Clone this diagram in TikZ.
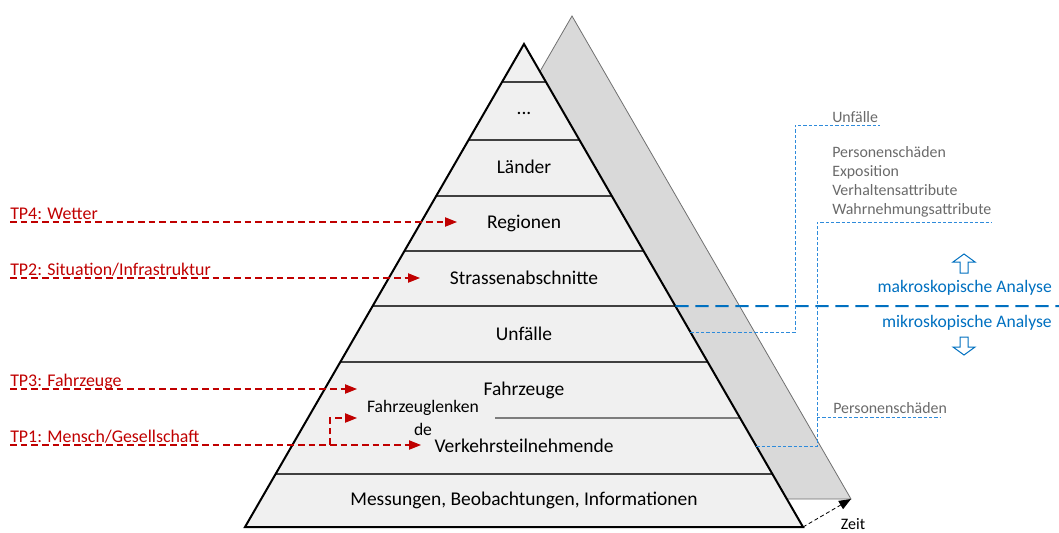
\documentclass[tikz,border=0pt]{standalone}
\usepackage{fontspec}
\setmainfont{Carlito}
\usetikzlibrary{arrows.meta, calc}
\definecolor{tpred}{HTML}{C00000}
\definecolor{scaleblue}{HTML}{0070C0}
\definecolor{linkblue}{HTML}{2E8BDB}
\definecolor{attrgray}{HTML}{6A6A6A}
\definecolor{pyrfill}{HTML}{F0F0F0}
\definecolor{shadowgray}{HTML}{D9D9D9}
\definecolor{shadowedge}{HTML}{707070}
\definecolor{layergray}{HTML}{404040}

\begin{document}
\begin{tikzpicture}[x=0.75pt, y=-0.75pt,
  layer/.style={font=\fontsize{14.6}{17}\selectfont, inner sep=0pt},
  tplabel/.style={font=\fontsize{13.4}{16}\selectfont, text=tpred, anchor=base west, inner sep=0pt},
  tparrow/.style={tpred, dash pattern=on 5pt off 3pt, line width=0.8pt, -{Triangle[length=9pt,width=7pt]}},
  layerline/.style={layergray, line width=1.1pt},
  attr/.style={font=\fontsize{11.9}{14.25}\selectfont, text=attrgray, inner sep=0pt},
  bracket/.style={linkblue, dash pattern=on 2.5pt off 1.5pt, line width=0.75pt},
  analysis/.style={font=\fontsize{13.2}{16}\selectfont, text=scaleblue, anchor=base east, inner sep=0pt},
  hollow/.style={scaleblue, fill=white, line width=0.75pt, line join=miter}]
\useasboundingbox (0,0) rectangle (1059,532);
\coordinate (top) at (524,44);
\coordinate (bl) at (245,527);
\coordinate (br) at (803,527);
\coordinate (stop) at (572,16);
\coordinate (sbr) at (851,499);
\coordinate (sbl) at (293,499);
\draw [shadowedge, fill=shadowgray, line width=0.6pt] (stop) -- (sbr) -- (sbl) -- cycle;
\fill [pyrfill] (top) -- (br) -- (bl) -- cycle;
\foreach \y in {82,140,196,251,306,362,474}
  \draw [layerline] ($(top)!{(\y-44)/483}!(bl)$) -- ($(top)!{(\y-44)/483}!(br)$);
\draw [layerline] (495,418) -- ($(top)!{374/483}!(br)$);
\draw [line width=1.5pt, line join=miter] (top) -- (br) -- (bl) -- cycle;

\node [layer] (dots) at (524,113) {...};
\node [layer] (laender) at (524,167) {Länder};
\node [layer] (regionen) at (524,223) {Regionen};
\node [layer] (strassen) at (524,278) {Strassenabschnitte};
\node [layer] (unfaelle) at (524,334) {Unfälle};
\node [layer] (fahrzeuge) at (524,390) {Fahrzeuge};
\node [layer, font=\fontsize{13.2}{17.25}\selectfont, align=center] (lenkende) at (423,418) {Fahrzeuglenken\\de};
\node [layer] (verkehr) at (524,446) {Verkehrsteilnehmende};
\node [layer] (messungen) at (524,500) {Messungen, Beobachtungen, Informationen};

\node [tplabel] (tpwetter) at (10,219) {TP4: Wetter};
\node [tplabel] (tpsituation) at (10,275) {TP2: Situation/Infrastruktur};
\node [tplabel] (tpfahrzeuge) at (10,386) {TP3: Fahrzeuge};
\node [tplabel] (tpmensch) at (10,442) {TP1: Mensch/Gesellschaft};
\coordinate (w0) at (10,222);
\coordinate (w1) at (457,222);
\coordinate (s0) at (10,278);
\coordinate (s1) at (420,278);
\coordinate (f0) at (10,389);
\coordinate (f1) at (357,389);
\coordinate (m0) at (10,445);
\coordinate (m1) at (421,445);
\coordinate (mb) at (330,445);
\coordinate (mf) at (357,418);
\draw [tparrow] (w0) -- (w1);
\draw [tparrow] (s0) -- (s1);
\draw [tparrow] (f0) -- (f1);
\draw [tparrow] (m0) -- (m1);
\draw [tparrow] (mb) |- (mf);

\draw [scaleblue, line width=1.5pt, dash pattern=on 10pt off 5pt] ($(top)!{262/483}!(br)$) -- (1059,306);
\node [analysis] (makro) at (1052,292) {makroskopische Analyse};
\node [analysis] (mikro) at (1052,327) {mikroskopische Analyse};
\draw [hollow] (960,273) -- (960,262) -- (953,262) -- (964,254) -- (975,262) -- (968,262) -- (968,273) -- cycle;
\draw [hollow] (960,337) -- (960,347) -- (953,347) -- (964,355) -- (975,347) -- (968,347) -- (968,337) -- cycle;

\node [attr, anchor=base west] (unfallattr) at (832,122) {Unfälle};
\node [attr, anchor=north west, align=left] (personattr) at (832,146) {Personenschäden\\Exposition\\Verhaltensattribute\\Wahrnehmungsattribute};
\node [attr, anchor=base west] (schadenattr) at (833,413) {Personenschäden};
\coordinate (u0) at ($(top)!{288/483}!(br)$);
\coordinate (u1) at (880,125);
\coordinate (p0) at ($(top)!{402/483}!(br)$);
\coordinate (p1) at (991,222);
\coordinate (p2) at (817,417);
\coordinate (p3) at (940,417);
\draw [bracket] (u0) -| (795,125) -- (u1);
\draw [bracket] (p0) -| (p1 -| p2) -- (p1);
\draw [bracket] (p2) -- (p3);

\draw [densely dashed, line width=0.6pt, -{Triangle[length=9pt,width=7pt]}] (br) -- (sbr);
\node [font=\fontsize{12}{14}\selectfont, anchor=south, inner sep=0pt] (zeit) at (853,530) {Zeit};
\end{tikzpicture}
\end{document}
